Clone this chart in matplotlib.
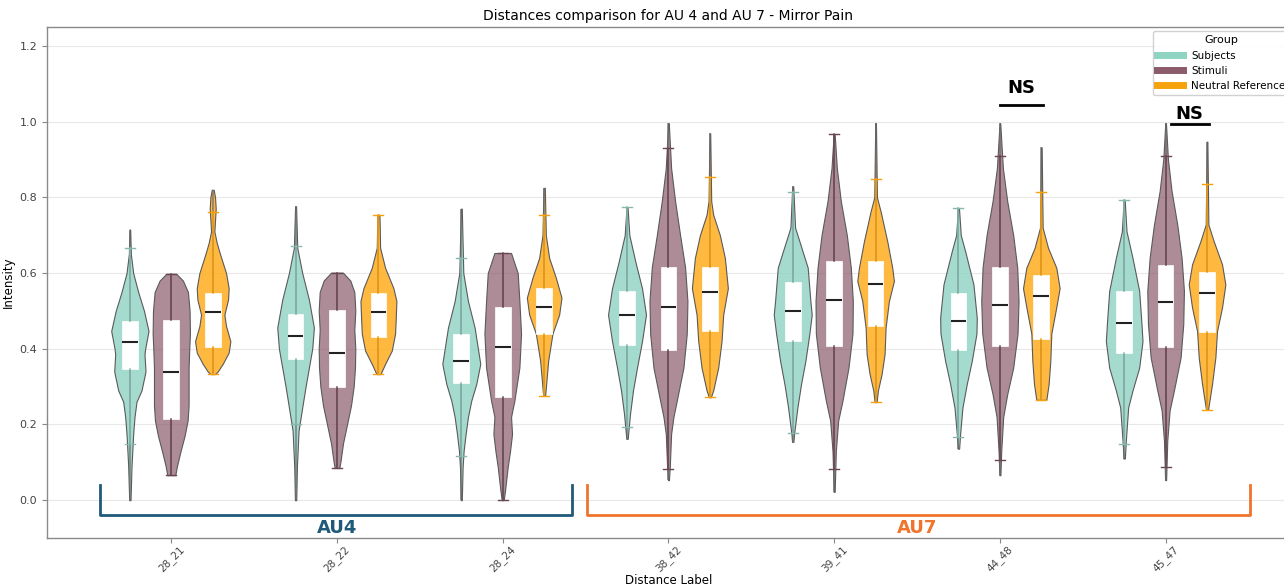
import numpy as np
import matplotlib
matplotlib.use("Agg")
import matplotlib.pyplot as plt
from matplotlib.lines import Line2D
from matplotlib.colors import to_rgba

# distance labels on the x axis
labels = ['28_21', '28_22', '28_24', '38_42', '39_41', '44_48', '45_47']
groups = ['Subjects', 'Stimuli', 'Neutral Reference']

# box stats per distance: (min, whislo, q1, median, q3, whishi, max)
subjects_box = [
    (0.0, 0.149, 0.346, 0.419, 0.474, 0.667, 0.715),
    (0.0, 0.200, 0.373, 0.434, 0.491, 0.671, 0.776),
    (0.0, 0.116, 0.309, 0.368, 0.440, 0.640, 0.770),
    (0.162, 0.193, 0.410, 0.488, 0.553, 0.774, 0.774),
    (0.154, 0.178, 0.421, 0.500, 0.576, 0.814, 0.829),
    (0.136, 0.167, 0.396, 0.474, 0.548, 0.772, 0.772),
    (0.110, 0.149, 0.388, 0.467, 0.553, 0.794, 0.794),
]
stimuli_box = [
    (0.066, 0.066, 0.215, 0.339, 0.475, 0.598, 0.598),
    (0.085, 0.085, 0.300, 0.388, 0.503, 0.601, 0.601),
    (0.0, 0.0, 0.272, 0.404, 0.510, 0.653, 0.653),
    (0.053, 0.081, 0.396, 0.510, 0.616, 0.930, 0.996),
    (0.022, 0.083, 0.408, 0.528, 0.632, 0.967, 0.967),
    (0.066, 0.105, 0.408, 0.516, 0.616, 0.908, 0.996),
    (0.053, 0.088, 0.405, 0.524, 0.620, 0.910, 0.996),
]
neutral_box = [
    (0.333, 0.333, 0.405, 0.498, 0.548, 0.760, 0.820),
    (0.333, 0.333, 0.430, 0.496, 0.548, 0.754, 0.754),
    (0.276, 0.276, 0.440, 0.510, 0.561, 0.753, 0.825),
    (0.272, 0.272, 0.447, 0.550, 0.616, 0.853, 0.969),
    (0.259, 0.259, 0.460, 0.570, 0.632, 0.848, 0.996),
    (0.265, 0.265, 0.425, 0.539, 0.596, 0.814, 0.932),
    (0.239, 0.239, 0.443, 0.546, 0.603, 0.835, 0.947),
]

# violin outlines: (intensity, relative width)
subjects_shape = [
    [(0.715, 2), (0.65, 6), (0.60, 20), (0.55, 50), (0.50, 85), (0.447, 112), (0.40, 92), (0.386, 88),
     (0.34, 94), (0.29, 70), (0.26, 40), (0.22, 28), (0.175, 20), (0.09, 10), (0.0, 4)],
    [(0.776, 3), (0.667, 10), (0.60, 40), (0.53, 80), (0.456, 110), (0.40, 100), (0.35, 80), (0.30, 60),
     (0.245, 40), (0.184, 18), (0.088, 8), (0.0, 4)],
    [(0.77, 3), (0.60, 12), (0.526, 40), (0.456, 80), (0.36, 114), (0.307, 90), (0.263, 60), (0.22, 40),
     (0.175, 26), (0.13, 14), (0.088, 8), (0.0, 3)],
    [(0.774, 3), (0.70, 14), (0.63, 50), (0.56, 90), (0.49, 114), (0.42, 90), (0.35, 60), (0.29, 36),
     (0.228, 18), (0.162, 4)],
    [(0.829, 3), (0.72, 14), (0.684, 40), (0.614, 90), (0.526, 106), (0.49, 114), (0.44, 100), (0.368, 76),
     (0.307, 50), (0.245, 28), (0.175, 8), (0.154, 4)],
    [(0.772, 3), (0.70, 14), (0.658, 40), (0.57, 90), (0.482, 110), (0.44, 108), (0.368, 80), (0.307, 50),
     (0.245, 24), (0.175, 10), (0.136, 4)],
    [(0.794, 3), (0.71, 14), (0.64, 50), (0.553, 90), (0.465, 104), (0.42, 110), (0.35, 90), (0.29, 50),
     (0.245, 24), (0.158, 10), (0.11, 4)],
]
stimuli_shape = [
    [(0.598, 30), (0.58, 70), (0.55, 100), (0.50, 110), (0.44, 112), (0.40, 108), (0.35, 104), (0.30, 104),
     (0.25, 104), (0.21, 98), (0.17, 80), (0.13, 56), (0.09, 34), (0.066, 24)],
    [(0.601, 36), (0.58, 80), (0.55, 104), (0.50, 110), (0.45, 104), (0.40, 110), (0.35, 108), (0.30, 100),
     (0.25, 84), (0.20, 60), (0.15, 36), (0.10, 20), (0.085, 14)],
    [(0.653, 50), (0.60, 90), (0.526, 100), (0.44, 110), (0.35, 100), (0.263, 70), (0.22, 50), (0.175, 56),
     (0.13, 44), (0.088, 30), (0.026, 14), (0.0, 6)],
    [(0.996, 2), (0.877, 16), (0.79, 40), (0.70, 70), (0.615, 100), (0.526, 114), (0.44, 110), (0.35, 90),
     (0.263, 50), (0.22, 30), (0.175, 16), (0.088, 8), (0.053, 3)],
    [(0.967, 3), (0.877, 16), (0.79, 40), (0.70, 76), (0.614, 100), (0.526, 112), (0.44, 110), (0.35, 86),
     (0.263, 50), (0.21, 24), (0.13, 10), (0.022, 3)],
    [(0.996, 2), (0.877, 18), (0.79, 44), (0.70, 80), (0.615, 104), (0.526, 112), (0.44, 106), (0.35, 80),
     (0.28, 44), (0.22, 20), (0.13, 8), (0.066, 3)],
    [(0.996, 2), (0.90, 14), (0.816, 36), (0.728, 70), (0.64, 96), (0.553, 110), (0.465, 106), (0.377, 90),
     (0.29, 50), (0.237, 24), (0.158, 10), (0.053, 3)],
]
neutral_shape = [
    [(0.82, 6), (0.80, 14), (0.77, 18), (0.74, 14), (0.71, 10), (0.68, 24), (0.65, 44), (0.60, 80),
     (0.56, 96), (0.53, 92), (0.49, 70), (0.46, 80), (0.42, 106), (0.39, 96), (0.36, 60), (0.34, 30),
     (0.333, 14)],
    [(0.754, 6), (0.72, 8), (0.667, 10), (0.614, 40), (0.56, 90), (0.526, 108), (0.48, 104), (0.44, 100),
     (0.395, 80), (0.36, 40), (0.333, 12)],
    [(0.825, 4), (0.70, 10), (0.64, 30), (0.588, 70), (0.535, 104), (0.49, 90), (0.44, 50), (0.368, 24),
     (0.307, 12), (0.276, 6)],
    [(0.969, 2), (0.79, 8), (0.754, 20), (0.70, 60), (0.64, 90), (0.56, 108), (0.49, 80), (0.42, 70),
     (0.35, 50), (0.29, 20), (0.272, 6)],
    [(0.996, 2), (0.80, 8), (0.763, 30), (0.684, 70), (0.614, 100), (0.579, 110), (0.526, 80), (0.456, 60),
     (0.386, 54), (0.333, 36), (0.29, 14), (0.259, 6)],
    [(0.932, 2), (0.72, 8), (0.667, 40), (0.614, 90), (0.56, 110), (0.51, 90), (0.44, 60), (0.368, 54),
     (0.307, 44), (0.265, 30)],
    [(0.947, 2), (0.728, 8), (0.684, 40), (0.623, 90), (0.57, 110), (0.509, 90), (0.447, 60), (0.377, 50),
     (0.307, 30), (0.239, 6)],
]

fill_colors = ['#8fd3c3', '#8b5a6b', '#ffad1f']
fill_alpha = [0.8, 0.7, 0.85]
whisk_colors = ['#86b8ad', '#6a4656', '#f5a00c']
legend_colors = ['#8fd3c3', '#8b5a6b', '#f5a20c']

fig = plt.figure(figsize=(12.84, 5.86), dpi=100)
ax = fig.add_axes([0.0366, 0.0819, 0.968, 0.872])

offsets = [-0.25, 0.0, 0.25]
full_w = 0.229 / 114.0
x = np.arange(len(labels))

for k, (boxes, shapes) in enumerate([(subjects_box, subjects_shape),
                                      (stimuli_box, stimuli_shape),
                                      (neutral_box, neutral_shape)]):
    pos = x + offsets[k]
    vstats = []
    widths = []
    for b, sh in zip(boxes, shapes):
        coords = [p[0] for p in sh]
        vals = [p[1] for p in sh]
        vstats.append(dict(coords=coords, vals=vals, mean=b[3], median=b[3], min=b[0], max=b[6]))
        widths.append(max(vals) * full_w)
    parts = ax.violin(vstats, positions=pos, widths=widths,
                      showmeans=False, showextrema=False, showmedians=False)
    for body in parts['bodies']:
        body.set_alpha(None)
        body.set_facecolor(to_rgba(fill_colors[k], fill_alpha[k]))
        body.set_edgecolor('#5a5a5a')
        body.set_linewidth(0.8)
        body.set_zorder(2)
    # full range line
    ax.vlines(pos, [b[0] for b in boxes], [b[6] for b in boxes],
              color='#6a6a6a', lw=1.1, alpha=0.8, zorder=3)
    bstats = [dict(med=b[3], q1=b[2], q3=b[4], whislo=b[1], whishi=b[5], fliers=[]) for b in boxes]
    ax.bxp(bstats, positions=pos, widths=0.095, patch_artist=True, showfliers=False,
           manage_ticks=False, capwidths=0.06, zorder=4,
           boxprops=dict(facecolor='white', edgecolor='white', lw=0.5),
           medianprops=dict(color='#222222', lw=1.5),
           whiskerprops=dict(color=whisk_colors[k], lw=1.1),
           capprops=dict(color=whisk_colors[k], lw=1.0))

ax.set_xlim(-0.75, 6.75)
ax.set_ylim(-0.1, 1.25)
ax.set_xticks(x)
ax.set_xticklabels(labels, rotation=45, fontsize=7.5, color='#444444')
ax.set_yticks([0.0, 0.2, 0.4, 0.6, 0.8, 1.0, 1.2])
ax.tick_params(axis='y', labelsize=8, labelcolor='#444444', color='#888888')
ax.tick_params(axis='x', color='#888888', pad=1)
ax.yaxis.grid(True, color='#e8e8e8', lw=0.8)
ax.set_axisbelow(True)
for s in ax.spines.values():
    s.set_color('#8a8a8a')
    s.set_linewidth(1.0)

ax.set_title('Distances comparison for AU 4 and AU 7 - Mirror Pain', fontsize=10, pad=5)
ax.set_ylabel('Intensity', fontsize=8.5, labelpad=3)
ax.set_xlabel('Distance Label', fontsize=8.5, labelpad=0)

# AU brackets
ax.plot([-0.428, -0.428, 2.416, 2.416], [0.04, -0.04, -0.04, 0.04], color='#1f5a7a', lw=2,
        solid_joinstyle='round', zorder=5)
ax.plot([2.506, 2.506, 6.51, 6.51], [0.04, -0.04, -0.04, 0.04], color='#f0742c', lw=2,
        solid_joinstyle='round', zorder=5)
ax.text(1.0, -0.073, 'AU4', color='#1f5a7a', fontsize=13, fontweight='bold', ha='center', va='center')
ax.text(4.5, -0.073, 'AU7', color='#f0742c', fontsize=13, fontweight='bold', ha='center', va='center')

# NS markers
ax.plot([5.0, 5.26], [1.045, 1.045], color='black', lw=2)
ax.text(5.13, 1.09, 'NS', fontsize=13, fontweight='bold', ha='center', va='center')
ax.plot([6.03, 6.26], [0.995, 0.995], color='black', lw=2)
ax.text(6.145, 1.02, 'NS', fontsize=13, fontweight='bold', ha='center', va='center')

handles = [Line2D([0], [0], color=c, lw=5) for c in legend_colors]
ax.legend(handles, groups, title='Group', loc='upper right', bbox_to_anchor=(1.003, 1.0),
          fontsize=7.5, title_fontsize=8, handlelength=2.5, framealpha=0.9, borderaxespad=0.4)

fig.savefig('out.png', dpi=100)
